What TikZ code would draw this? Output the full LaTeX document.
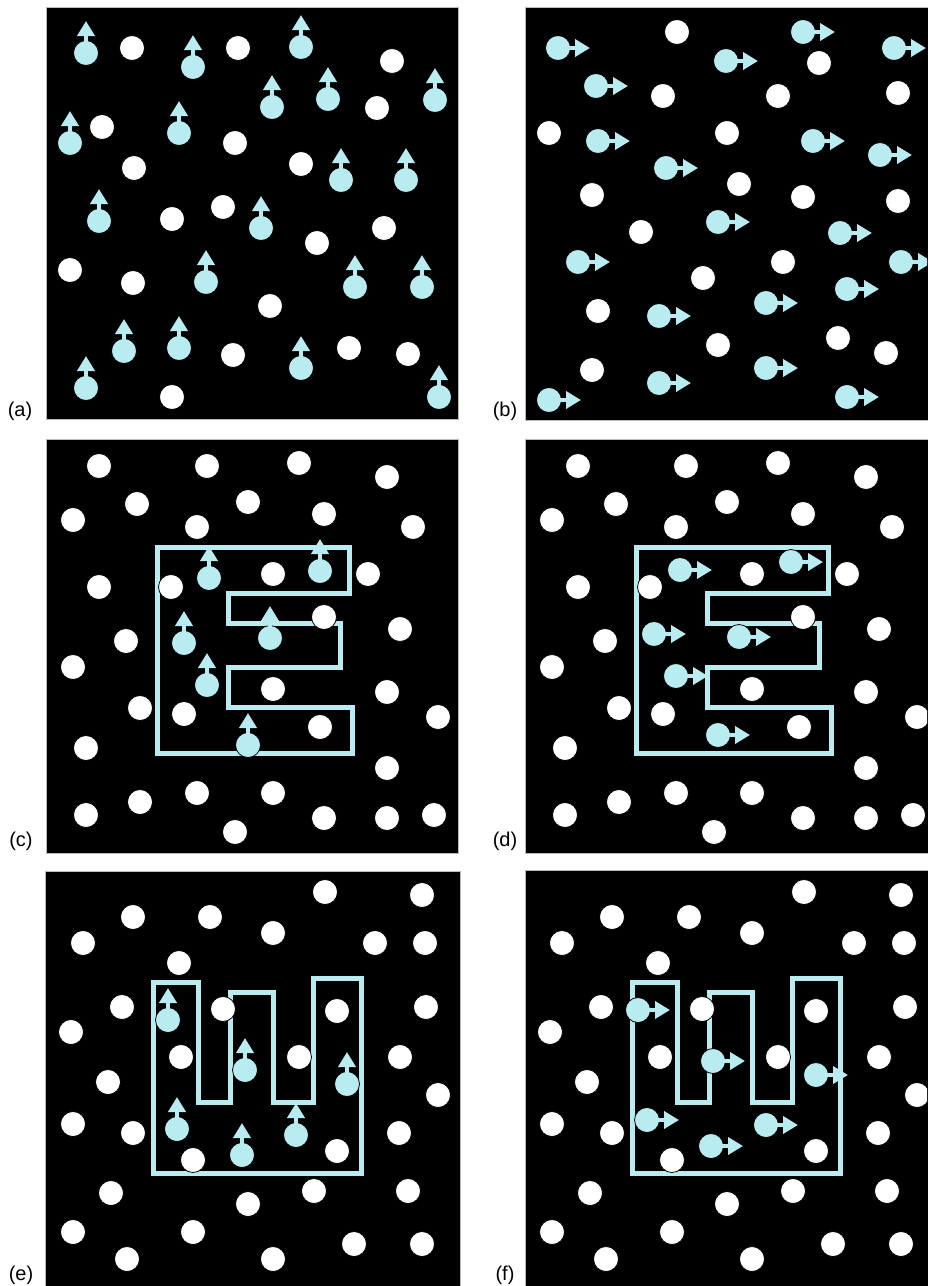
\documentclass[tikz,border=0pt]{standalone}
\usepackage{fontspec}
\setmainfont{Liberation Sans}
\usepackage{tikz}
\usetikzlibrary{arrows.meta}

\definecolor{dotcyan}{RGB}{185,236,240}

% white dots shared by (c)/(d) and by (e)/(f)
\def\whitesE{99/466, 207/466, 299/463, 387/477, 137/504, 248/502, 73/520, 197/527,
  324/514, 413/527, 99/587, 171/587, 273/574, 368/574, 324/617, 400/629, 126/641,
  73/667, 273/689, 387/692, 140/708, 184/714, 320/727, 438/717, 86/748, 387/768,
  140/802, 197/793, 273/793, 86/815, 324/818, 387/818, 434/815, 235/832}
\def\whitesW{325/892, 422/895, 133/917, 210/917, 273/933, 83/943, 375/943, 425/943,
  179/963, 122/1007, 223/1009, 337/1011, 426/1007, 71/1032, 181/1057, 299/1057,
  400/1057, 108/1082, 438/1095, 73/1124, 133/1133, 399/1133, 193/1160, 337/1151,
  111/1193, 314/1191, 408/1191, 248/1204, 73/1232, 193/1232, 354/1244, 422/1244,
  127/1259, 273/1259}

\tikzset{
  panel/.style={fill=black, draw=gray!55, line width=1pt},
  whitedot/.style={fill=white, draw=black, line width=0.8pt},
  cyandot/.style={fill=dotcyan, draw=black, line width=0.8pt},
  motion/.style={draw=dotcyan, line width=4pt, -{Triangle[length=15pt,width=17pt]}},
  letterline/.style={draw=dotcyan, line width=5pt, line join=miter},
  panellabel/.style={font=\fontsize{20}{22}\selectfont, text=black}
}

\begin{document}
\begin{tikzpicture}[x=1pt, y=-1pt]

    \useasboundingbox (0,0) rectangle (927,1286);

    % Panel frames
    \draw[panel] (46,7) rectangle (458,419);
    \draw[panel] (525,7) rectangle (928,420);
    \draw[panel] (46,439) rectangle (458,853);
    \draw[panel] (525,439) rectangle (928,853);
    \draw[panel] (45,871) rectangle (460,1287);
    \draw[panel] (525,870) rectangle (928,1287);

    % Panel labels
    \node[panellabel] (la) at (20,411) {(a)};
    \node[panellabel] (lb) at (505,411) {(b)};
    \node[panellabel] (lc) at (21,841) {(c)};
    \node[panellabel] (ld) at (505,841) {(d)};
    \node[panellabel] (le) at (21,1275) {(e)};
    \node[panellabel] (lf) at (505,1275) {(f)};

    % (a) random, moving up
    \foreach \x/\y in {132/48, 238/48, 392/61, 377/108, 102/127, 235/143, 134/168, 301/164,
        172/219, 223/207, 317/243, 384/228, 70/270, 133/283, 270/306, 233/355, 349/348,
        408/354, 172/397}
        \filldraw[whitedot] (\x,\y) circle (12.5pt);
    \foreach \x/\y in {86/53, 193/67, 301/47, 272/107, 328/99, 435/100, 70/143, 179/133,
        341/180, 406/180, 99/221, 261/228, 206/282, 355/287, 422/287, 124/351, 179/348,
        301/368, 86/388, 439/397} {
        \filldraw[cyandot] (\x,\y) circle (12.5pt);
        \draw[motion] (\x,\y) ++(0,-10) -- ++(0,-22);
    }

    % (b) random, moving right
    \begin{scope}
    \clip (525,7) rectangle (927,420);
    \foreach \x/\y in {677/32, 819/63, 663/96, 778/96, 898/93, 549/133, 727/133, 739/184,
        803/197, 898/201, 592/195, 641/232, 783/262, 703/278, 598/311, 718/345, 838/338,
        886/353, 592/370}
        \filldraw[whitedot] (\x,\y) circle (12.5pt);
    \foreach \x/\y in {558/48, 726/61, 803/32, 894/48, 596/86, 598/141, 813/141, 880/155,
        666/168, 718/222, 840/233, 578/262, 901/262, 847/289, 766/303, 659/316, 766/368,
        659/383, 549/400, 847/397} {
        \filldraw[cyandot] (\x,\y) circle (12.5pt);
        \draw[motion] (\x,\y) ++(10,0) -- ++(22,0);
    }
    \end{scope}

    % (c) letter E, moving up
    \draw[letterline] (157,547) -- (349,547) -- (349,593) -- (228,593) -- (228,623)
        -- (340,623) -- (340,667) -- (228,667) -- (228,707) -- (352,707) -- (352,753)
        -- (157,753) -- cycle;
    \foreach \x/\y in \whitesE
        \filldraw[whitedot] (\x,\y) circle (12.5pt);
    \foreach \x/\y in {209/578, 320/571, 184/643, 270/638, 207/685, 248/745} {
        \filldraw[cyandot] (\x,\y) circle (12.5pt);
        \draw[motion] (\x,\y) ++(0,-10) -- ++(0,-22);
    }

    % (d) letter E, moving right
    \begin{scope}
    \clip (525,439) rectangle (927,853);
    \begin{scope}[xshift=479pt]
    \draw[letterline] (157,547) -- (349,547) -- (349,593) -- (228,593) -- (228,623)
        -- (340,623) -- (340,667) -- (228,667) -- (228,707) -- (352,707) -- (352,753)
        -- (157,753) -- cycle;
    \foreach \x/\y in \whitesE
        \filldraw[whitedot] (\x,\y) circle (12.5pt);
    \end{scope}
    \foreach \x/\y in {680/570, 791/562, 654/634, 739/637, 676/676, 718/735} {
        \filldraw[cyandot] (\x,\y) circle (12.5pt);
        \draw[motion] (\x,\y) ++(10,0) -- ++(22,0);
    }
    \end{scope}

    % (e) letter W, moving up
    \draw[letterline] (153,982) -- (198,982) -- (198,1102) -- (230,1102) -- (230,992)
        -- (273,992) -- (273,1102) -- (313,1102) -- (313,978) -- (361,978) -- (361,1173)
        -- (153,1173) -- cycle;
    \foreach \x/\y in \whitesW
        \filldraw[whitedot] (\x,\y) circle (12.5pt);
    \foreach \x/\y in {168/1020, 245/1070, 347/1084, 177/1129, 296/1135, 242/1155} {
        \filldraw[cyandot] (\x,\y) circle (12.5pt);
        \draw[motion] (\x,\y) ++(0,-10) -- ++(0,-22);
    }

    % (f) letter W, moving right
    \begin{scope}
    \clip (525,870) rectangle (927,1286);
    \begin{scope}[xshift=479pt]
    \draw[letterline] (153,982) -- (198,982) -- (198,1102) -- (230,1102) -- (230,992)
        -- (273,992) -- (273,1102) -- (313,1102) -- (313,978) -- (361,978) -- (361,1173)
        -- (153,1173) -- cycle;
    \foreach \x/\y in \whitesW
        \filldraw[whitedot] (\x,\y) circle (12.5pt);
    \end{scope}
    \foreach \x/\y in {638/1010, 713/1061, 816/1075, 647/1120, 766/1125, 711/1146} {
        \filldraw[cyandot] (\x,\y) circle (12.5pt);
        \draw[motion] (\x,\y) ++(10,0) -- ++(22,0);
    }
    \end{scope}

\end{tikzpicture}
\end{document}
